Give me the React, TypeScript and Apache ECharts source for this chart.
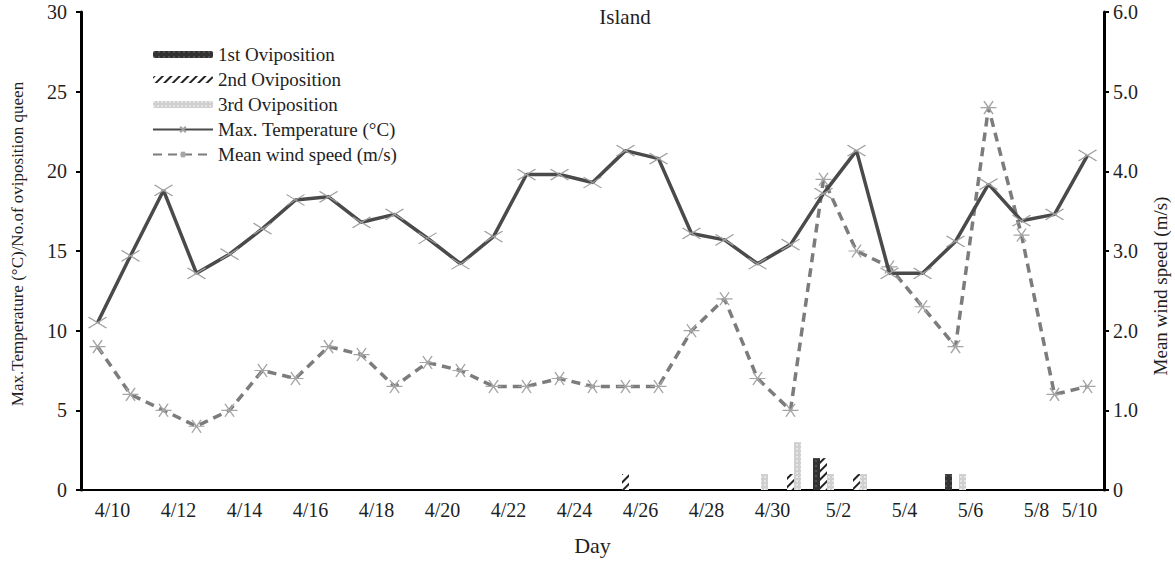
import React, { useEffect, useRef } from "react";
import * as echarts from "echarts";

const days = [
  "4/10", "4/11", "4/12", "4/13", "4/14", "4/15", "4/16", "4/17", "4/18", "4/19", "4/20",
  "4/21", "4/22", "4/23", "4/24", "4/25", "4/26", "4/27", "4/28", "4/29", "4/30",
  "5/1", "5/2", "5/3", "5/4", "5/5", "5/6", "5/7", "5/8", "5/9", "5/10",
];

const maxTemp = [
  10.5, 14.7, 18.8, 13.6, 14.8, 16.4, 18.2, 18.4, 16.8, 17.3, 15.8,
  14.2, 15.9, 19.8, 19.8, 19.3, 21.3, 20.8, 16.1, 15.7, 14.2,
  15.4, 18.6, 21.3, 13.6, 13.6, 15.6, 19.2, 16.9, 17.3, 21.0,
];

const windSpeed = [
  1.8, 1.2, 1.0, 0.8, 1.0, 1.5, 1.4, 1.8, 1.7, 1.3, 1.6,
  1.5, 1.3, 1.3, 1.4, 1.3, 1.3, 1.3, 2.0, 2.4, 1.4,
  1.0, 3.9, 3.0, 2.8, 2.3, 1.8, 4.8, 3.2, 1.2, 1.3,
];

const ovi1st = [
  null, null, null, null, null, null, null, null, null, null, null,
  null, null, null, null, null, null, null, null, null, null,
  null, 2, null, null, null, 1, null, null, null, null,
];

const ovi2nd = [
  null, null, null, null, null, null, null, null, null, null, null,
  null, null, null, null, null, 1, null, null, null, null,
  1, 2, 1, null, null, null, null, null, null, null,
];

const ovi3rd = [
  null, null, null, null, null, null, null, null, null, null, null,
  null, null, null, null, null, null, null, null, null, 1,
  3, 1, 1, null, null, 1, null, null, null, null,
];

const leftTicks = [0, 5, 10, 15, 20, 25, 30];
const rightTicks = [0, 1, 2, 3, 4, 5, 6];

const FONT = "Liberation Serif";
const TXT = "#1e1e1e";

export default function App() {
  const ref = useRef<HTMLDivElement>(null);

  useEffect(() => {
    document.body.style.margin = "0";
    if (!ref.current) return;
    const chart = echarts.init(ref.current, undefined, { renderer: "svg" });

    const crossPath = "path://M0,0L16,10M16,0L0,10";
    const starPath = "path://M0,6L14,6M3,0L11,12M11,0L3,12";

    const option: any = {
      animation: false,
      backgroundColor: "#ffffff",
      title: {
        text: "Island",
        left: 620,
        top: 1,
        textAlign: "center",
        textStyle: { fontFamily: FONT, fontSize: 21, fontWeight: "normal", color: TXT },
      },
      legend: {
        orient: "vertical",
        left: 147,
        top: 40,
        itemWidth: 60,
        itemHeight: 7,
        itemGap: 6,
        textStyle: { fontFamily: FONT, fontSize: 19, lineHeight: 19, color: TXT },
        data: [
          "1st Oviposition",
          "2nd Oviposition",
          "3rd Oviposition",
          "Max. Temperature (°C)",
          "Mean wind speed (m/s)",
        ],
      },
      grid: { left: 81, right: 71, top: 12, bottom: 64, containLabel: false },
      xAxis: {
        type: "category",
        data: days,
        boundaryGap: true,
        name: "Day",
        nameLocation: "middle",
        nameGap: 44,
        nameTextStyle: { fontFamily: FONT, fontSize: 22, color: TXT },
        axisLine: { lineStyle: { color: "#000", width: 2 } },
        axisTick: { interval: 1, length: 4, lineStyle: { color: "#000", width: 2 } },
        axisLabel: {
          interval: 1,
          margin: 10,
          color: TXT,
          fontFamily: FONT,
          fontSize: 20,
          formatter: (v: string, i: number) => (i === days.length - 1 ? `{e|${v}}` : `{n|${v}}`),
          rich: {
            n: { fontFamily: FONT, fontSize: 20, color: TXT, padding: [0, 0, 0, 30] },
            e: { fontFamily: FONT, fontSize: 20, color: TXT, padding: [0, 16, 0, 0] },
          },
        },
      },
      yAxis: [
        {
          type: "value",
          min: leftTicks[0],
          max: leftTicks[leftTicks.length - 1],
          interval: 5,
          splitLine: { show: false },
          axisLine: { show: true, lineStyle: { color: "#000", width: 3 } },
          axisTick: { show: true, length: 5, lineStyle: { color: "#000", width: 2 } },
          axisLabel: { margin: 14, color: TXT, fontFamily: FONT, fontSize: 20 },
        },
        {
          type: "value",
          position: "right",
          min: rightTicks[0],
          max: rightTicks[rightTicks.length - 1],
          interval: 1,
          splitLine: { show: false },
          axisLine: { show: true, lineStyle: { color: "#000", width: 3 } },
          axisTick: { show: true, length: 5, lineStyle: { color: "#000", width: 2 } },
          axisLabel: {
            margin: 9,
            color: TXT,
            fontFamily: FONT,
            fontSize: 20,
            formatter: (v: number) => (v === 0 ? "0" : v.toFixed(1)),
          },
        },
      ],
      graphic: [
        {
          type: "text",
          x: 17,
          y: 244,
          rotation: Math.PI / 2,
          style: {
            text: "Max.Temperature (°C)/No.of oviposition queen",
            fontFamily: FONT,
            fontSize: 17,
            fill: TXT,
            textAlign: "center",
            textVerticalAlign: "middle",
          },
        },
        {
          type: "text",
          x: 1160,
          y: 286,
          rotation: Math.PI / 2,
          style: {
            text: "Mean wind speed (m/s)",
            fontFamily: FONT,
            fontSize: 19,
            fill: TXT,
            textAlign: "center",
            textVerticalAlign: "middle",
          },
        },
      ],
      series: [
        {
          name: "1st Oviposition",
          type: "bar",
          data: ovi1st,
          barWidth: 7,
          barGap: "0%",
          itemStyle: {
            color: "#333333",
            decal: {
              symbol: "rect",
              color: "rgba(170,170,170,0.8)",
              symbolSize: 0.6,
              dashArrayX: [2, 3],
              dashArrayY: [2, 3],
            },
          },
        },
        {
          name: "2nd Oviposition",
          type: "bar",
          data: ovi2nd,
          barWidth: 7,
          barGap: "0%",
          itemStyle: {
            color: "#ffffff",
            decal: {
              symbol: "rect",
              color: "#222222",
              symbolSize: 1,
              dashArrayX: [1, 0],
              dashArrayY: [2, 4],
              rotation: -Math.PI / 4,
            },
          },
        },
        {
          name: "3rd Oviposition",
          type: "bar",
          data: ovi3rd,
          barWidth: 7,
          barGap: "0%",
          itemStyle: {
            color: "#cfcfcf",
            decal: {
              symbol: "circle",
              color: "#f2f2f2",
              symbolSize: 0.8,
              dashArrayX: [2, 2],
              dashArrayY: [2, 2],
            },
          },
        },
        {
          name: "Max. Temperature (°C)",
          type: "line",
          data: maxTemp,
          yAxisIndex: 0,
          symbol: crossPath,
          symbolSize: [18, 11],
          showAllSymbol: true,
          lineStyle: { color: "#4a4a4a", width: 3.5 },
          itemStyle: { color: "#a0a0a0", borderColor: "#a0a0a0", borderWidth: 1.3 },
          z: 5,
        },
        {
          name: "Mean wind speed (m/s)",
          type: "line",
          data: windSpeed,
          yAxisIndex: 1,
          symbol: starPath,
          symbolSize: [16, 13],
          showAllSymbol: true,
          lineStyle: { color: "#7c7c7c", width: 3.5, type: [9, 6] },
          itemStyle: { color: "#a5a5a5", borderColor: "#a5a5a5", borderWidth: 1.3 },
          z: 4,
        },
      ],
    };

    chart.setOption(option);
    return () => chart.dispose();
  }, []);

  return <div ref={ref} style={{ width: 1175, height: 561 }} />;
}
